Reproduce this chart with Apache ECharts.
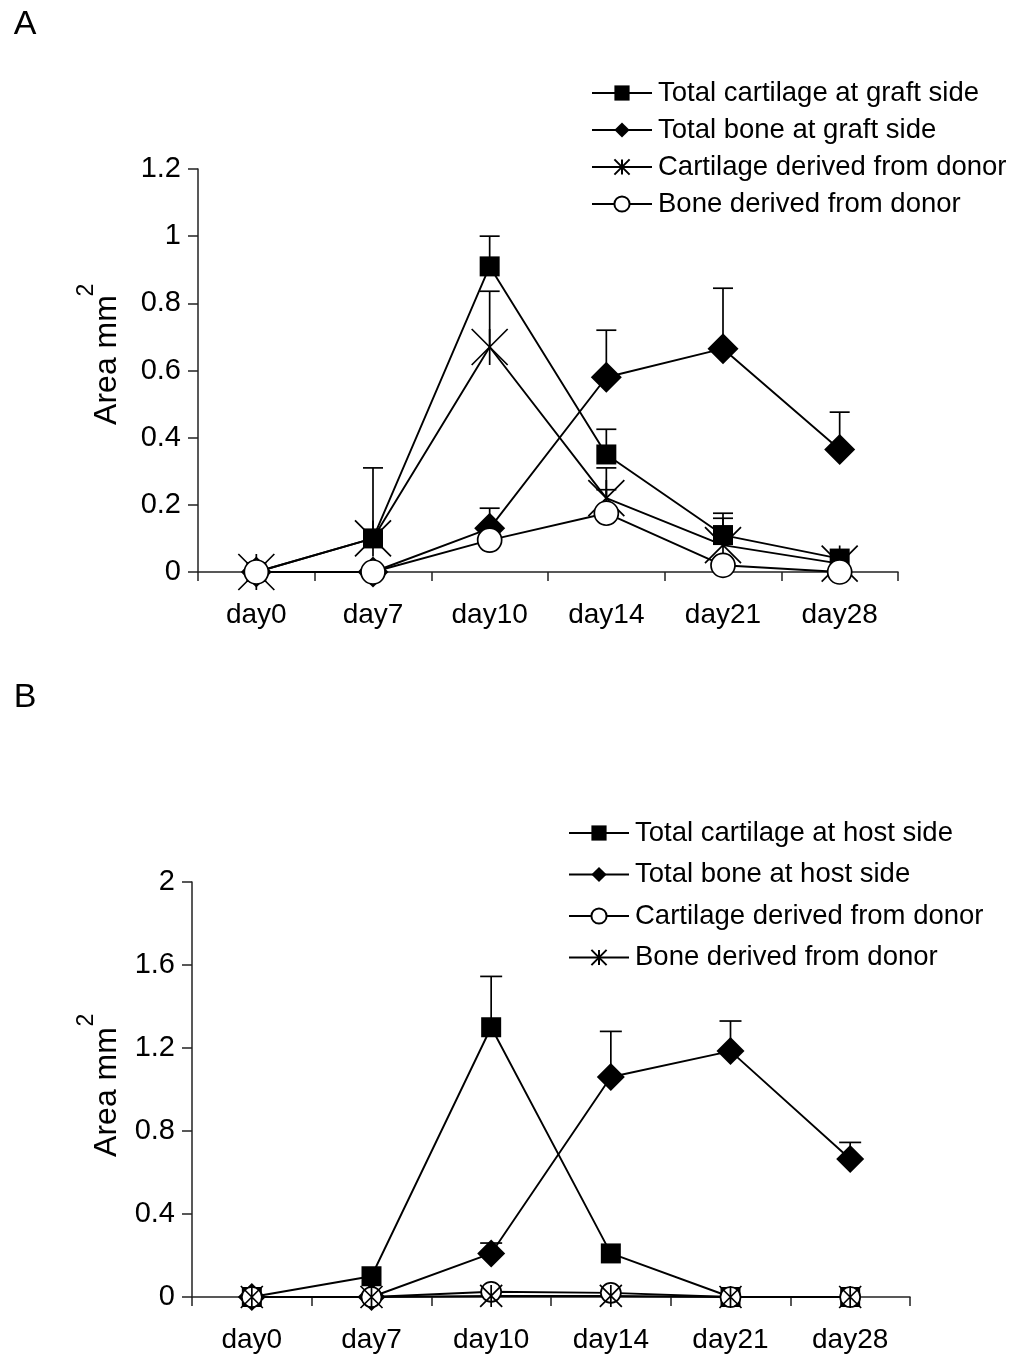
<!DOCTYPE html>
<html>
<head>
<meta charset="utf-8">
<script src="https://cdn.jsdelivr.net/npm/echarts@6/dist/echarts.min.js"></script>
<style>html,body{margin:0;padding:0;background:#fff}#c{width:1011px;height:1355px}</style>
</head>
<body>
<div id="c"></div>
<script>
// ---- data ----
var categories = ['day0', 'day7', 'day10', 'day14', 'day21', 'day28'];

// Panel A (graft side)
var aNames = ['Total cartilage at graft side', 'Total bone at graft side', 'Cartilage derived from donor', 'Bone derived from donor'];
var aCartTotal    = [0, 0.10, 0.91, 0.35, 0.11, 0.04];
var aCartTotalErr = [null, 0.31, 1.00, 0.425, 0.175, null];
var aBoneTotal    = [0, 0, 0.13, 0.58, 0.665, 0.365];
var aBoneTotalErr = [null, null, 0.19, 0.72, 0.845, 0.476];
var aCartDonor    = [0, 0.10, 0.67, 0.22, 0.08, 0.025];
var aCartDonorErr = [null, null, 0.836, 0.31, 0.16, null];
var aBoneDonor    = [0, 0, 0.095, 0.175, 0.02, 0];
var aBoneDonorErr = [null, null, null, 0.245, null, null];

// Panel B (host side)
var bNames = ['Total cartilage at host side', 'Total bone at host side', 'Cartilage derived from donor ', 'Bone derived from donor '];
var bCartTotal    = [0, 0.10, 1.30, 0.21, 0, 0];
var bCartTotalErr = [null, null, 1.545, null, null, null];
var bBoneTotal    = [0, 0, 0.21, 1.06, 1.185, 0.665];
var bBoneTotalErr = [null, null, 0.26, 1.28, 1.33, 0.745];
var bCartDonor    = [0, 0, 0.025, 0.02, 0, 0];
var bBoneDonor    = [0, 0, 0.005, 0.005, 0, 0];

var aYTicks = {min: 0, max: 1.2, interval: 0.2};
var bYTicks = {min: 0, max: 2, interval: 0.4};

// ---- helpers ----
var FONT = 'Liberation Sans, Arial, sans-serif';
var STAR = 'path://M0,0L20,20M0,20L20,0M10,0L10,20';

function lineSeries(name, data, idx, symbol, size, fill) {
  return {
    type: 'line', name: name, data: data, xAxisIndex: idx, yAxisIndex: idx,
    symbol: symbol, symbolSize: size, showAllSymbol: true,
    lineStyle: {color: '#000', width: 1.9},
    itemStyle: {color: fill, borderColor: '#000', borderWidth: symbol === STAR ? 1.7 : (fill === '#fff' ? 1.7 : 0)},
    emphasis: {disabled: true}, animation: false, z: 3
  };
}
function errSeries(vals, errs, idx, capW) {
  var d = [];
  for (var i = 0; i < vals.length; i++) {
    if (errs[i] != null) d.push([i, vals[i], errs[i]]);
  }
  return {
    type: 'custom', xAxisIndex: idx, yAxisIndex: idx, data: d, z: 2, animation: false,
    encode: {x: 0, y: [1, 2]}, silent: true,
    renderItem: function (params, api) {
      var p0 = api.coord([api.value(0), api.value(1)]);
      var p1 = api.coord([api.value(0), api.value(2)]);
      var st = {stroke: '#000', lineWidth: 1.7};
      return {type: 'group', children: [
        {type: 'line', shape: {x1: p0[0], y1: p0[1], x2: p1[0], y2: p1[1]}, style: st},
        {type: 'line', shape: {x1: p1[0] - capW, y1: p1[1], x2: p1[0] + capW, y2: p1[1]}, style: st}
      ]};
    }
  };
}
function xAxis(idx) {
  return {
    type: 'category', gridIndex: idx, data: categories, boundaryGap: true,
    axisLine: {lineStyle: {color: '#222', width: 1.5}},
    axisTick: {show: true, length: 9, lineStyle: {color: '#222', width: 1.5}},
    axisLabel: {color: '#000', fontSize: 28, fontFamily: FONT, margin: 29},
    splitLine: {show: false}
  };
}
function yAxis(idx, t) {
  return {
    type: 'value', gridIndex: idx, min: t.min, max: t.max, interval: t.interval,
    axisLine: {show: true, lineStyle: {color: '#222', width: 1.5}},
    axisTick: {show: true, length: 10, lineStyle: {color: '#222', width: 1.5}},
    axisLabel: {color: '#000', fontSize: 29, fontFamily: FONT, margin: 17},
    splitLine: {show: false}
  };
}
function legend(names, left, top, gap) {
  return {
    data: names, orient: 'vertical', left: left, top: top, padding: 0,
    itemWidth: 60, itemHeight: 19, itemGap: gap, selectedMode: false,
    textStyle: {color: '#000', fontSize: 27.5, fontFamily: FONT, lineHeight: 30, padding: [0, 0, 0, 1]}
  };
}
function txt(s, x, y, size, rot) {
  return {type: 'text', x: x, y: y, rotation: rot || 0,
    style: {text: s, fontSize: size, fontFamily: FONT, fill: '#000', align: 'center', verticalAlign: 'middle'}};
}

var option = {
  backgroundColor: '#fff',
  animation: false,
  grid: [
    {left: 198, top: 169, width: 700, height: 403},
    {left: 192, top: 882, width: 718, height: 415}
  ],
  xAxis: [xAxis(0), xAxis(1)],
  yAxis: [yAxis(0, aYTicks), yAxis(1, bYTicks)],
  legend: [legend(aNames, 591, 78, 7), legend(bNames, 568, 818, 11.5)],
  graphic: [
    txt('A', 25, 25, 34),
    txt('B', 25, 698, 34),
    txt('Area mm', 107, 360, 32, Math.PI / 2),
    txt('2', 87, 290, 23, Math.PI / 2),
    txt('Area mm', 107, 1092, 32, Math.PI / 2),
    txt('2', 87, 1020, 23, Math.PI / 2)
  ],
  series: [
    errSeries(aCartTotal, aCartTotalErr, 0, 10),
    errSeries(aBoneTotal, aBoneTotalErr, 0, 10),
    errSeries(aCartDonor, aCartDonorErr, 0, 10),
    errSeries(aBoneDonor, aBoneDonorErr, 0, 10),
    lineSeries(aNames[0], aCartTotal, 0, 'rect', 20, '#000'),
    lineSeries(aNames[1], aBoneTotal, 0, 'diamond', [31, 31], '#000'),
    lineSeries(aNames[2], aCartDonor, 0, STAR, 36, '#000'),
    lineSeries(aNames[3], aBoneDonor, 0, 'circle', 24, '#fff'),

    errSeries(bCartTotal, bCartTotalErr, 1, 11),
    errSeries(bBoneTotal, bBoneTotalErr, 1, 11),
    lineSeries(bNames[0], bCartTotal, 1, 'rect', 20, '#000'),
    lineSeries(bNames[1], bBoneTotal, 1, 'diamond', [28, 28], '#000'),
    lineSeries(bNames[2], bCartDonor, 1, 'circle', 20, '#fff'),
    lineSeries(bNames[3], bBoneDonor, 1, STAR, 22, '#000')
  ]
};
var chart = echarts.init(document.getElementById('c'), null, {renderer: 'canvas'});
chart.setOption(option);
</script>
</body>
</html>
